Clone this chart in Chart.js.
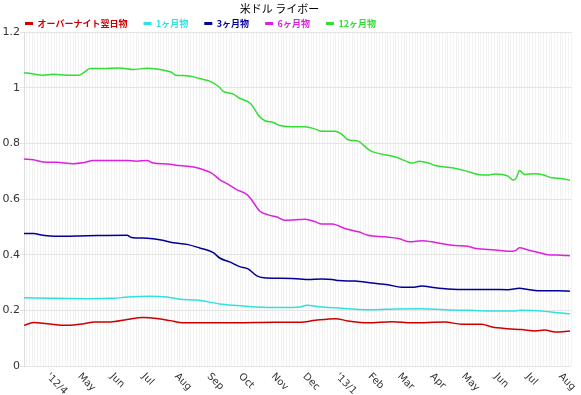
<!DOCTYPE html>
<html>
<head>
<meta charset="utf-8">
<script src="https://cdn.jsdelivr.net/npm/chart.js@4"></script>
<style>
  html, body { margin: 0; padding: 0; background: #fff; }
  canvas { display: block; }
</style>
</head>
<body>
<canvas id="libor" width="581" height="395"></canvas>
<script>
// days counted from 2012-03-09
const titleText = '米ドル ライボー'
const seriesNames = ['オーバーナイト翌日物', '1ヶ月物', '3ヶ月物', '6ヶ月物', '12ヶ月物']
const seriesColors = ['#cc0000', '#33e0e0', '#000099', '#dd22dd', '#33dd33']

const monthDays = [23, 53, 84, 114, 145, 176, 206, 237, 267, 298, 329, 357, 388, 418, 449, 479, 510]
const monthLabels = ["'12/4", 'May', 'Jun', 'Jul', 'Aug', 'Sep', 'Oct', 'Nov', 'Dec', "'13/1", 'Feb', 'Mar', 'Apr', 'May', 'Jun', 'Jul', 'Aug']

const onDays = [0, 9, 22, 41, 56, 67, 82, 98, 113, 126, 139, 151, 174, 202, 237, 262, 277, 296, 308, 327, 350, 369, 400, 416, 435, 445, 460, 473, 486, 495, 505, 519]
const onRates = [0.146, 0.156, 0.152, 0.146, 0.151, 0.158, 0.158, 0.167, 0.174, 0.171, 0.163, 0.155, 0.155, 0.155, 0.157, 0.157, 0.164, 0.170, 0.162, 0.155, 0.159, 0.155, 0.158, 0.150, 0.150, 0.140, 0.134, 0.131, 0.126, 0.129, 0.122, 0.126]

const m1Days = [0, 28, 60, 85, 98, 120, 136, 148, 164, 186, 199, 221, 243, 262, 269, 283, 305, 331, 353, 378, 400, 422, 441, 467, 473, 492, 508, 519]
const m1Rates = [0.245, 0.243, 0.242, 0.243, 0.248, 0.251, 0.248, 0.240, 0.237, 0.223, 0.218, 0.212, 0.210, 0.212, 0.218, 0.212, 0.207, 0.202, 0.205, 0.206, 0.202, 0.200, 0.198, 0.198, 0.200, 0.198, 0.191, 0.188]

const m3Days = [0, 9, 18, 31, 60, 98, 102, 117, 129, 142, 155, 167, 180, 186, 196, 205, 213, 221, 228, 243, 262, 270, 283, 293, 299, 315, 331, 346, 359, 369, 378, 391, 403, 422, 445, 460, 471, 479, 492, 508, 519]
const m3Rates = [0.476, 0.476, 0.470, 0.466, 0.468, 0.470, 0.462, 0.459, 0.454, 0.443, 0.437, 0.424, 0.407, 0.388, 0.373, 0.357, 0.349, 0.325, 0.317, 0.315, 0.313, 0.311, 0.313, 0.311, 0.307, 0.305, 0.298, 0.292, 0.283, 0.283, 0.287, 0.281, 0.277, 0.275, 0.275, 0.274, 0.279, 0.275, 0.270, 0.270, 0.269]

const m6Days = [0, 9, 18, 31, 47, 56, 66, 82, 98, 107, 117, 123, 136, 148, 161, 170, 178, 186, 193, 202, 212, 216, 224, 232, 240, 248, 262, 267, 277, 283, 293, 305, 318, 327, 343, 356, 367, 378, 391, 407, 422, 430, 448, 460, 467, 471, 479, 489, 498, 511, 519]
const m6Rates = [0.744, 0.741, 0.733, 0.732, 0.727, 0.730, 0.738, 0.738, 0.738, 0.736, 0.738, 0.729, 0.726, 0.720, 0.715, 0.706, 0.694, 0.670, 0.655, 0.634, 0.616, 0.599, 0.557, 0.543, 0.536, 0.524, 0.526, 0.527, 0.518, 0.510, 0.510, 0.494, 0.482, 0.470, 0.464, 0.458, 0.446, 0.450, 0.444, 0.434, 0.430, 0.422, 0.417, 0.412, 0.414, 0.425, 0.417, 0.408, 0.400, 0.398, 0.396]

const m12Days = [0, 9, 18, 28, 41, 52, 56, 63, 75, 91, 104, 117, 126, 136, 140, 144, 155, 167, 178, 185, 189, 199, 205, 215, 218, 223, 229, 237, 243, 253, 262, 267, 277, 283, 296, 302, 308, 318, 324, 329, 337, 353, 362, 369, 376, 384, 391, 407, 419, 432, 441, 448, 460, 465, 468, 471, 476, 486, 494, 502, 511, 519]
const m12Rates = [1.054, 1.049, 1.045, 1.048, 1.045, 1.045, 1.052, 1.069, 1.069, 1.071, 1.065, 1.070, 1.067, 1.060, 1.056, 1.045, 1.043, 1.033, 1.021, 1.004, 0.988, 0.977, 0.962, 0.944, 0.930, 0.900, 0.881, 0.875, 0.864, 0.860, 0.860, 0.860, 0.851, 0.843, 0.843, 0.833, 0.813, 0.807, 0.789, 0.774, 0.764, 0.751, 0.738, 0.729, 0.736, 0.730, 0.720, 0.712, 0.702, 0.688, 0.686, 0.690, 0.682, 0.668, 0.676, 0.702, 0.688, 0.691, 0.686, 0.676, 0.674, 0.667]

function toPoints(days, rates) {
    return days.map((d, i) => ({x: d, y: rates[i]}))
}

const allDays = [onDays, m1Days, m3Days, m6Days, m12Days]
const allRates = [onRates, m1Rates, m3Rates, m6Rates, m12Rates]

const datasets = seriesNames.map((name, i) => ({
    label: name,
    data: toPoints(allDays[i], allRates[i]),
    borderColor: seriesColors[i],
    backgroundColor: seriesColors[i],
    borderWidth: 1.5,
    pointRadius: 0,
    cubicInterpolationMode: 'monotone',
    fill: false
}))

// title and slanted month labels
const extraText = {
    id: 'extraText',
    afterLayout(chart) {
        // nudge legend to sit over the plot's left edge
        chart.legend.left += 9
    },
    afterDraw(chart) {
        const ctx = chart.ctx
        const xScale = chart.scales.x
        ctx.save()
        ctx.fillStyle = '#000'
        ctx.font = '11px "Noto Sans CJK JP"'
        ctx.textAlign = 'center'
        ctx.textBaseline = 'middle'
        ctx.fillText(titleText, chart.width / 2 - 11, 9)

        ctx.fillStyle = '#333'
        ctx.font = '10px "DejaVu Sans"'
        ctx.textAlign = 'left'
        for (let i = 0; i < monthDays.length; i++) {
            const x = xScale.getPixelForValue(monthDays[i])
            ctx.save()
            ctx.translate(x - 0.5, chart.chartArea.bottom + 9)
            ctx.rotate(Math.PI / 4)
            ctx.fillText(monthLabels[i], 0, 0)
            ctx.restore()
        }
        ctx.restore()
    }
}

const config = {
    type: 'line',
    data: {datasets: datasets},
    options: {
        responsive: false,
        animation: false,
        devicePixelRatio: 1,
        layout: {padding: {top: 3, left: 0, right: 10, bottom: 0}},
        plugins: {
            title: {display: false},
            tooltip: {enabled: false},
            legend: {
                position: 'top',
                align: 'start',
                maxHeight: 29,
                labels: {
                    boxWidth: 8,
                    boxHeight: 3,
                    padding: 16,
                    font: {family: '"Noto Sans CJK JP"', size: 9, weight: 'bold'},
                    generateLabels(chart) {
                        return chart.data.datasets.map((ds, i) => ({
                            text: ds.label,
                            fillStyle: ds.borderColor,
                            strokeStyle: ds.borderColor,
                            fontColor: ds.borderColor,
                            lineWidth: 0,
                            hidden: false,
                            datasetIndex: i
                        }))
                    }
                }
            }
        },
        scales: {
            x: {
                type: 'linear',
                min: 0,
                max: 520,
                ticks: {display: false, stepSize: 2.6, autoSkip: false},
                grid: {color: '#f2f2f2', drawTicks: false},
                border: {display: false},
                afterFit(s) { s.height = 29 }
            },
            y: {
                min: 0,
                max: 1.2,
                ticks: {
                    stepSize: 0.2,
                    padding: 0,
                    color: '#333',
                    font: {family: 'DejaVu Sans', size: 11},
                    callback: v => String(parseFloat(v.toFixed(1)))
                },
                grid: {color: '#e4e4e4', tickLength: 4},
                border: {color: '#dddddd'},
                afterFit(s) { s.width = 24 }
            }
        }
    },
    plugins: [extraText]
}

const liborChart = new Chart(document.getElementById('libor'), config)
</script>
</body>
</html>
